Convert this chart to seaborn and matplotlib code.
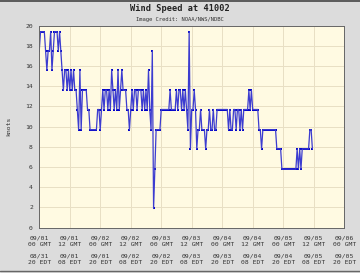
import numpy as np
import pandas as pd
import matplotlib
matplotlib.use("Agg")
import matplotlib.pyplot as plt
import matplotlib.dates as mdates
from matplotlib.lines import Line2D
import seaborn as sns

# Wind speed (knots), half-hourly from 2009-09-01 00:00 GMT
wind_knots = [
    17.5, 19.4, 19.4, 19.4, 19.4, 17.5, 15.6, 17.5, 17.5, 19.4,
    15.6, 17.5, 19.4, 19.4, 19.4, 17.5, 19.4, 17.5, 15.6, 13.6,
    15.6, 15.6, 13.6, 15.6, 13.6, 15.6, 13.6, 15.6, 13.6, 13.6,
    11.7, 9.7, 15.6, 9.7, 13.6, 13.6, 13.6, 13.6, 11.7, 11.7,
    9.7, 9.7, 9.7, 9.7, 9.7, 9.7, 11.7, 11.7, 9.7, 11.7,
    13.6, 11.7, 13.6, 13.6, 11.7, 13.6, 11.7, 15.6, 13.6, 11.7,
    13.6, 11.7, 15.6, 11.7, 13.6, 15.6, 13.6, 13.6, 13.6, 11.7,
    11.7, 9.7, 11.7, 13.6, 11.7, 13.6, 13.6, 11.7, 13.6, 13.6,
    13.6, 11.7, 13.6, 11.7, 13.6, 11.7, 15.6, 11.7, 9.7, 17.5,
    1.9, 5.8, 9.7, 9.7, 9.7, 9.7, 11.7, 11.7, 11.7, 11.7,
    11.7, 11.7, 11.7, 13.6, 11.7, 11.7, 11.7, 11.7, 13.6, 11.7,
    13.6, 13.6, 11.7, 13.6, 11.7, 13.6, 11.7, 9.7, 19.4, 7.8,
    11.7, 11.7, 13.6, 11.7, 7.8, 9.7, 9.7, 11.7, 9.7, 9.7,
    9.7, 7.8, 9.7, 9.7, 11.7, 9.7, 9.7, 11.7, 9.7, 9.7,
    11.7, 11.7, 11.7, 11.7, 11.7, 11.7, 11.7, 11.7, 11.7, 9.7,
    11.7, 9.7, 9.7, 11.7, 11.7, 9.7, 11.7, 11.7, 9.7, 11.7,
    9.7, 11.7, 11.7, 11.7, 11.7, 13.6, 11.7, 13.6, 11.7, 11.7,
    11.7, 11.7, 11.7, 9.7, 9.7, 7.8, 9.7, 9.7, 9.7, 9.7,
    9.7, 9.7, 9.7, 9.7, 9.7, 9.7, 9.7, 7.8, 7.8, 7.8,
    7.8, 5.8, 5.8, 5.8, 5.8, 5.8, 5.8, 5.8, 5.8, 5.8,
    5.8, 5.8, 5.8, 7.8, 5.8, 7.8, 5.8, 7.8, 7.8, 7.8,
    7.8, 7.8, 7.8, 9.7, 9.7, 7.8,
]
times = pd.date_range("2009-09-01 00:00", periods=len(wind_knots), freq="30min")

tick_times = pd.date_range("2009-09-01 00:00", "2009-09-06 00:00", freq="12h")
gmt_labels = ["09/01\n00 GMT", "09/01\n12 GMT", "09/02\n00 GMT", "09/02\n12 GMT",
              "09/03\n00 GMT", "09/03\n12 GMT", "09/04\n00 GMT", "09/04\n12 GMT",
              "09/05\n00 GMT", "09/05\n12 GMT", "09/06\n00 GMT"]
edt_labels = ["08/31\n20 EDT", "09/01\n08 EDT", "09/01\n20 EDT", "09/02\n08 EDT",
              "09/02\n20 EDT", "09/03\n08 EDT", "09/03\n20 EDT", "09/04\n08 EDT",
              "09/04\n20 EDT", "09/05\n08 EDT", "09/05\n20 EDT"]
y_ticks = [0, 2, 4, 6, 8, 10, 12, 14, 16, 18, 20]

df = pd.DataFrame({"time": times, "knots": wind_knots})

sns.set_style("white")
plt.rcParams["font.family"] = ["DejaVu Sans Mono"]

fig = plt.figure(figsize=(3.6, 2.73), dpi=100, facecolor="#dcdcdc")
ax = fig.add_axes([0.109, 0.166, 0.847, 0.740])
ax.set_facecolor("#fffae2")

sns.lineplot(data=df, x="time", y="knots", ax=ax, color="#3c3cd0", lw=0.9)
sns.scatterplot(data=df, x="time", y="knots", ax=ax, color="#0000c8",
                marker="s", s=4, linewidth=0)

ax.set_xlim(tick_times[0], tick_times[-1])
ax.set_ylim(0, 20)
ax.set_yticks(y_ticks)
ax.set_yticklabels([str(v) for v in y_ticks])
ax.yaxis.set_minor_locator(matplotlib.ticker.MultipleLocator(1))
ax.set_xticks(tick_times)
ax.set_xticklabels([g + "\n\n" + e for g, e in zip(gmt_labels, edt_labels)],
                   linespacing=1.3)
ax.xaxis.set_minor_locator(mdates.HourLocator(byhour=range(0, 24, 3)))

ax.grid(True, which="major", color="#e8dfc4", lw=0.7)
for s in ax.spines.values():
    s.set_color("#666666")
    s.set_linewidth(0.7)
ax.tick_params(axis="both", which="major", length=3, width=0.6, color="#555555",
               labelsize=4.6, labelcolor="#333333", pad=1.5, direction="out")
ax.tick_params(axis="both", which="minor", length=1.8, width=0.5, color="#555555",
               direction="out")
ax.tick_params(axis="x", which="major", pad=2.5)

ax.set_xlabel("")
ax.set_ylabel("knots", fontsize=4.6, color="#333333", labelpad=10)

fig.text(0.5, 0.968, "Wind Speed at 41002", ha="center", va="center",
         fontsize=6.2, fontweight="bold", color="#222222")
fig.text(0.5, 0.93, "Image Credit: NOAA/NWS/NDBC", ha="center", va="center",
         fontsize=4.0, color="#333333")

fig.add_artist(Line2D([0, 1], [0.998, 0.998], transform=fig.transFigure,
                      color="#444444", lw=1.2))
fig.add_artist(Line2D([0, 1], [0.007, 0.007], transform=fig.transFigure,
                      color="#666666", lw=1.0))

fig.savefig("out.png", dpi=100, facecolor=fig.get_facecolor())
